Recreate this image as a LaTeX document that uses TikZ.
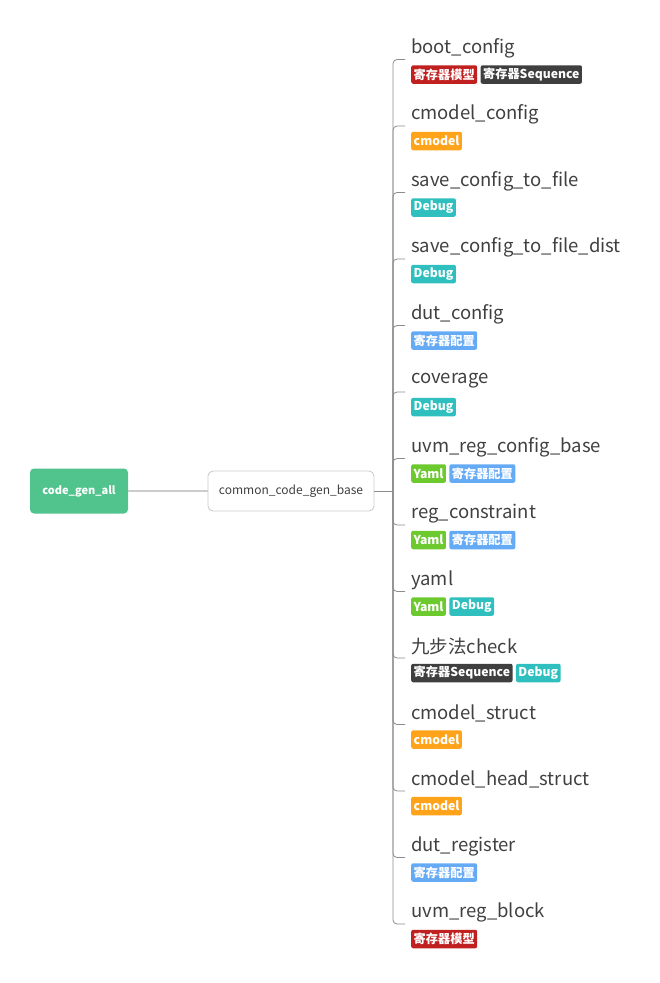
\documentclass[tikz,border=0pt]{standalone}
\usepackage{fontspec}
\setmainfont{Noto Sans CJK SC}
\usetikzlibrary{positioning}

\definecolor{rootgreen}{HTML}{50C48C}
\definecolor{tagred}{HTML}{C0201F}
\definecolor{tagdark}{HTML}{3F3F3F}
\definecolor{tagorange}{HTML}{FFA31A}
\definecolor{tagteal}{HTML}{2FBFBF}
\definecolor{tagblue}{HTML}{64AAF5}
\definecolor{taggreen}{HTML}{6DCA2E}
\definecolor{titlegray}{HTML}{404040}
\definecolor{linegray}{HTML}{8C8C8C}
\definecolor{boxgray}{HTML}{CCCCCC}

\tikzset{
  rootbox/.style={fill=rootgreen, text=white, rounded corners=4pt,
    minimum width=98pt, minimum height=45pt, inner sep=0pt,
    font=\fontsize{11}{12}\selectfont\bfseries},
  basebox/.style={draw=boxgray, line width=0.9pt, fill=white, rounded corners=5pt,
    minimum width=166pt, minimum height=40pt, inner sep=0pt, text=titlegray,
    font=\fontsize{12}{13}\selectfont},
  title/.style={anchor=west, inner sep=0pt, text=titlegray,
    font=\fontsize{18.5}{20}\selectfont},
  tag/.style={anchor=west, inner xsep=2.5pt, inner ysep=0pt, minimum height=18.5pt,
    rounded corners=2pt, text=white, font=\fontsize{12.2}{13}\selectfont\bfseries},
  tagnext/.style={tag, right=3pt of #1},
  trunk/.style={draw=boxgray, line width=1.6pt},
  branch/.style={draw=linegray, line width=0.8pt, rounded corners=4pt},
}

\begin{document}
\begin{tikzpicture}[x=1pt, y=-1pt]
\useasboundingbox (0,0) rectangle (660,983);

\node[rootbox] (root) at (79,491) {code\_gen\_all};
\node[basebox] (base) at (291,491) {common\_code\_gen\_base};
\draw[trunk] (root.east) -- (base.west);

\coordinate (hub) at (393,491);
\draw[draw=linegray, line width=0.8pt] (base.east) -- (hub);

% children: titles, tags and their connector stubs
\node[title] (t1) at (411,48) {boot\_config};
\node[tag, fill=tagred] (g1a) at (411,74.5) {寄存器模型};
\node[tagnext=g1a, fill=tagdark] (g1b) {寄存器Sequence};

\node[title] (t2) at (411,114.5) {cmodel\_config};
\node[tag, fill=tagorange] (g2a) at (411,141) {cmodel};

\node[title] (t3) at (411,181) {save\_config\_to\_file};
\node[tag, fill=tagteal] (g3a) at (411,207.5) {Debug};

\node[title] (t4) at (411,247.5) {save\_config\_to\_file\_dist};
\node[tag, fill=tagteal] (g4a) at (411,274) {Debug};

\node[title] (t5) at (411,314) {dut\_config};
\node[tag, fill=tagblue] (g5a) at (411,340.5) {寄存器配置};

\node[title] (t6) at (411,380.5) {coverage};
\node[tag, fill=tagteal] (g6a) at (411,407) {Debug};

\node[title] (t7) at (411,447) {uvm\_reg\_config\_base};
\node[tag, fill=taggreen] (g7a) at (411,473.5) {Yaml};
\node[tagnext=g7a, fill=tagblue] (g7b) {寄存器配置};

\node[title] (t8) at (411,513.5) {reg\_constraint};
\node[tag, fill=taggreen] (g8a) at (411,540) {Yaml};
\node[tagnext=g8a, fill=tagblue] (g8b) {寄存器配置};

\node[title] (t9) at (411,580) {yaml};
\node[tag, fill=taggreen] (g9a) at (411,606.5) {Yaml};
\node[tagnext=g9a, fill=tagteal] (g9b) {Debug};

\node[title] (t10) at (411,646.5) {九步法check};
\node[tag, fill=tagdark] (g10a) at (411,673) {寄存器Sequence};
\node[tagnext=g10a, fill=tagteal] (g10b) {Debug};

\node[title] (t11) at (411,713) {cmodel\_struct};
\node[tag, fill=tagorange] (g11a) at (411,739.5) {cmodel};

\node[title] (t12) at (411,779.5) {cmodel\_head\_struct};
\node[tag, fill=tagorange] (g12a) at (411,806) {cmodel};

\node[title] (t13) at (411,846) {dut\_register};
\node[tag, fill=tagblue] (g13a) at (411,872.5) {寄存器配置};

\node[title] (t14) at (411,912.5) {uvm\_reg\_block};
\node[tag, fill=tagred] (g14a) at (411,939) {寄存器模型};

\foreach \i in {1,...,14} {
  \coordinate (s\i) at ([xshift=-6pt,yshift=-11.5pt]t\i.west);
  \draw[branch] (hub) |- (s\i);
}

\end{tikzpicture}
\end{document}
